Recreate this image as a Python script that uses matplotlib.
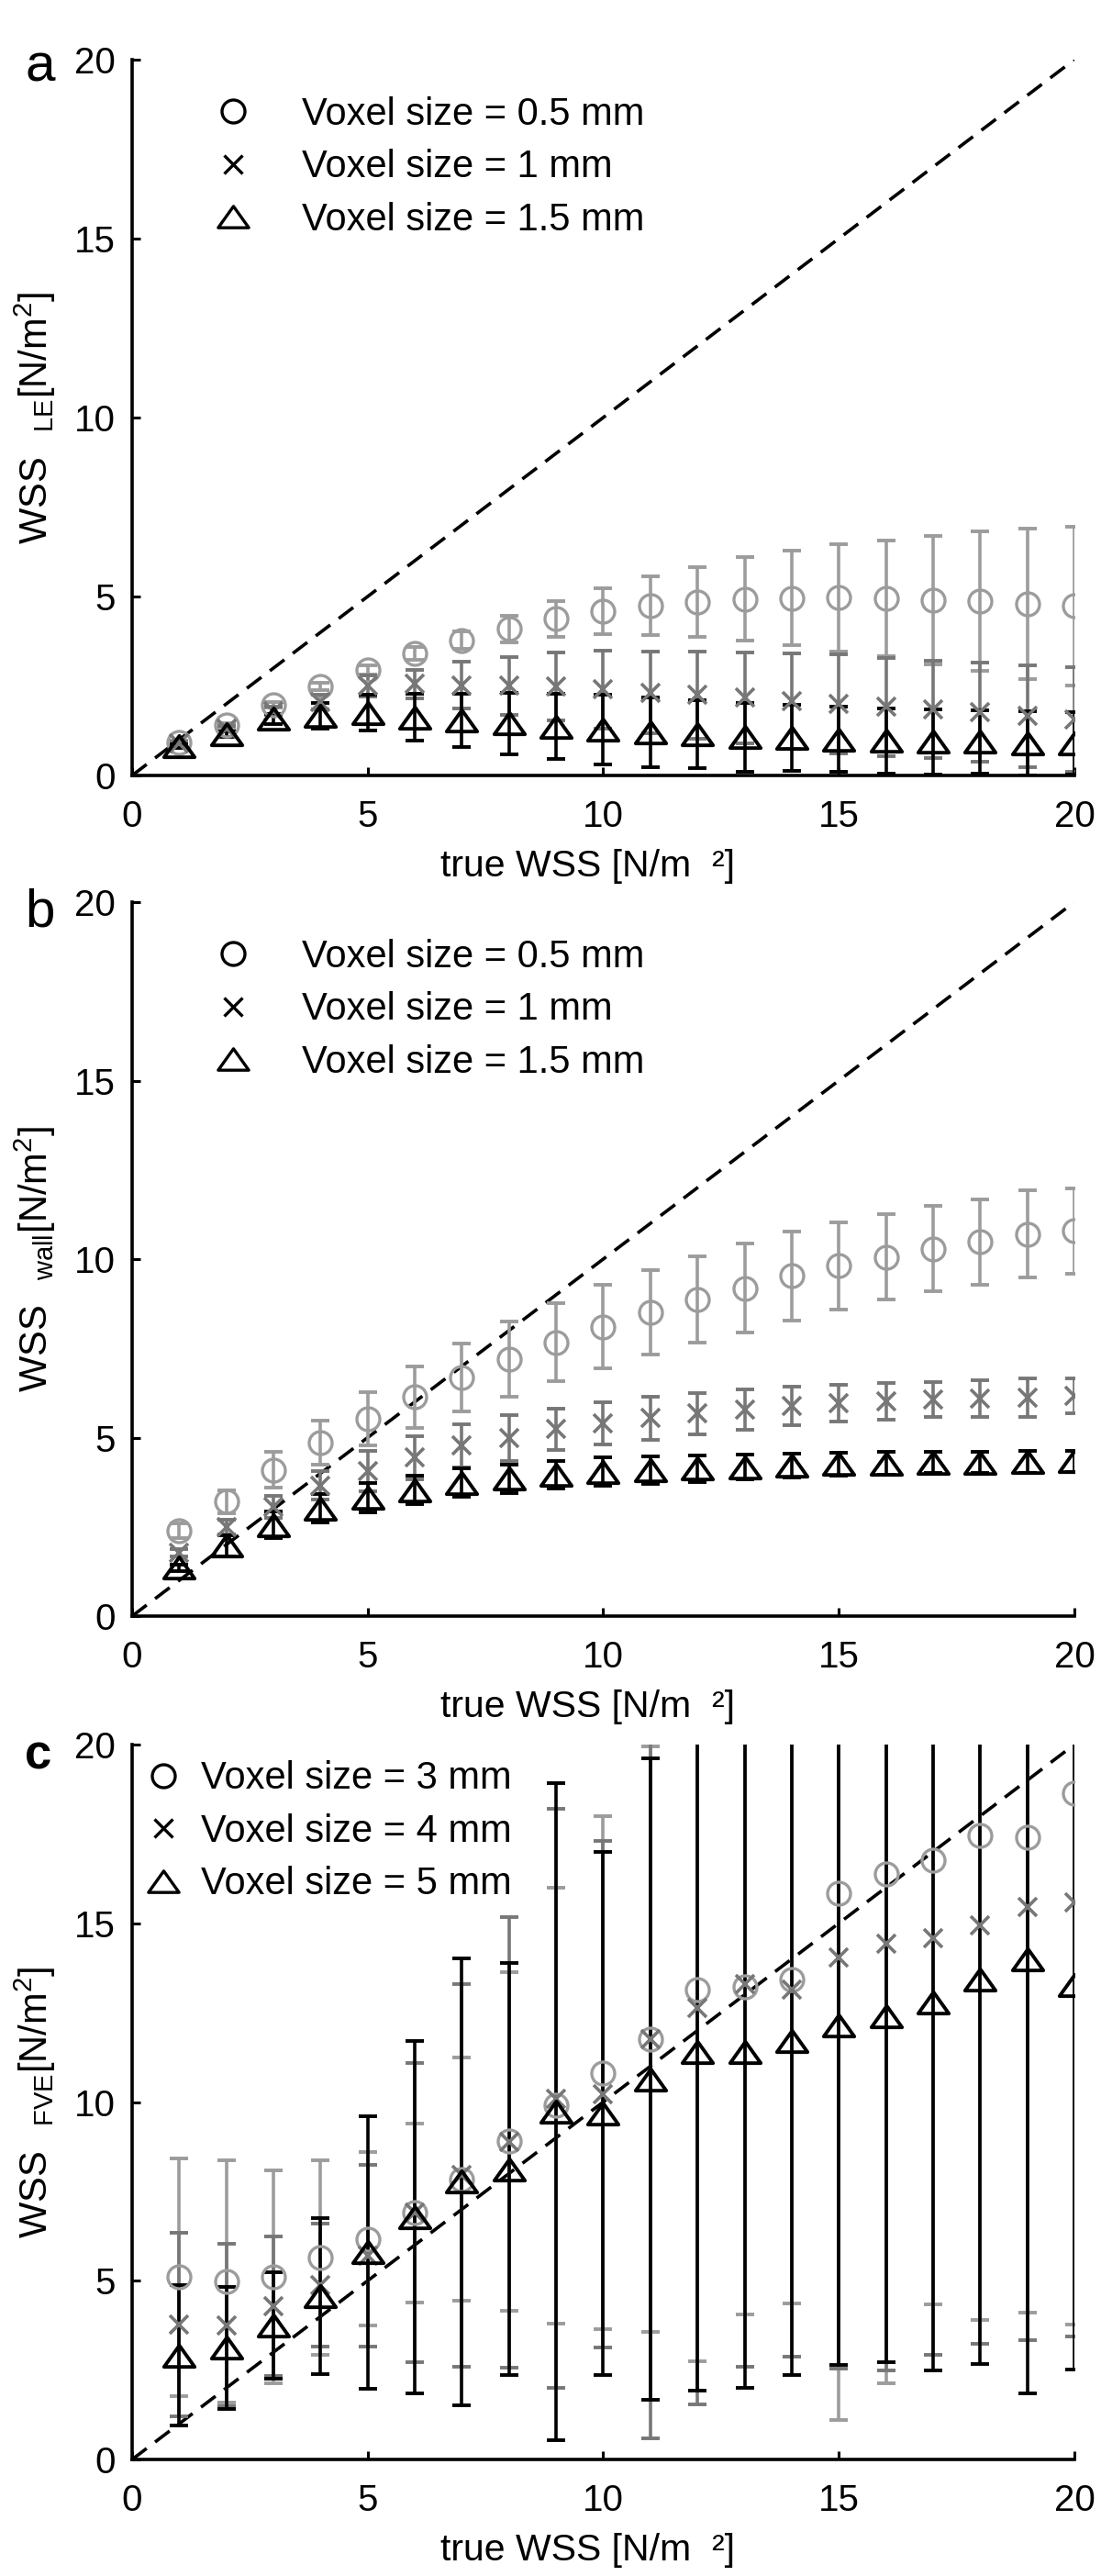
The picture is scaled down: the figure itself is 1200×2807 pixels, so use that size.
import numpy as np
import matplotlib
matplotlib.use("Agg")
import matplotlib.pyplot as plt
from matplotlib.lines import Line2D
from matplotlib.path import Path

plt.rcParams['font.family'] = ['Liberation Sans', 'DejaVu Sans']
plt.rcParams['mathtext.default'] = 'regular'

true_wss = np.arange(1, 21)

# ---- panel a : WSS_LE ----
a_05_mean = [0.92, 1.40, 1.98, 2.48, 2.95, 3.40, 3.78, 4.10, 4.38, 4.58,
             4.75, 4.85, 4.93, 4.96, 4.97, 4.95, 4.90, 4.86, 4.80, 4.74]
a_05_std = [0.05, 0.07, 0.08, 0.10, 0.12, 0.18, 0.25, 0.37, 0.50, 0.64,
            0.82, 0.98, 1.16, 1.31, 1.50, 1.62, 1.80, 1.95, 2.10, 2.22]
a_1_mean = [0.90, 1.30, 1.80, 2.05, 2.50, 2.56, 2.52, 2.50, 2.48, 2.40,
            2.32, 2.25, 2.17, 2.08, 2.00, 1.92, 1.84, 1.77, 1.66, 1.57]
a_1_std = [0.05, 0.08, 0.12, 0.20, 0.30, 0.40, 0.65, 0.80, 0.95, 1.08,
           1.15, 1.22, 1.27, 1.34, 1.38, 1.37, 1.36, 1.39, 1.42, 1.46]
a_15_mean = [0.82, 1.15, 1.58, 1.67, 1.75, 1.62, 1.54, 1.45, 1.37, 1.28,
             1.21, 1.15, 1.07, 1.05, 1.01, 0.97, 0.94, 0.94, 0.90, 0.90]
a_15_std = [0.05, 0.08, 0.15, 0.35, 0.50, 0.65, 0.74, 0.85, 0.92, 0.97,
            0.97, 0.95, 0.96, 0.93, 0.92, 0.91, 0.91, 0.88, 0.89, 0.87]

# ---- panel b : WSS_wall ----
b_05_mean = [2.39, 3.21, 4.10, 4.85, 5.52, 6.14, 6.68, 7.20, 7.67, 8.11,
             8.50, 8.87, 9.19, 9.53, 9.81, 10.06, 10.29, 10.48, 10.70, 10.79]
b_05_std = [0.20, 0.32, 0.50, 0.62, 0.75, 0.86, 0.95, 1.05, 1.10, 1.16,
            1.18, 1.20, 1.24, 1.24, 1.22, 1.20, 1.20, 1.20, 1.22, 1.20]
b_1_mean = [1.78, 2.50, 3.06, 3.66, 4.07, 4.44, 4.77, 4.98, 5.24, 5.41,
            5.54, 5.67, 5.78, 5.88, 5.97, 6.01, 6.07, 6.09, 6.12, 6.18]
b_1_std = [0.10, 0.20, 0.30, 0.40, 0.57, 0.60, 0.61, 0.64, 0.58, 0.59,
           0.61, 0.57, 0.57, 0.54, 0.51, 0.51, 0.49, 0.52, 0.53, 0.49]
b_15_mean = [1.35, 1.97, 2.55, 3.02, 3.32, 3.53, 3.73, 3.85, 3.96, 4.04,
             4.09, 4.13, 4.17, 4.21, 4.26, 4.28, 4.30, 4.30, 4.32, 4.34]
b_15_std = [0.10, 0.30, 0.37, 0.41, 0.41, 0.40, 0.40, 0.40, 0.38, 0.40,
            0.38, 0.38, 0.35, 0.34, 0.32, 0.31, 0.30, 0.30, 0.30, 0.30]

# ---- panel c : WSS_FVE ----
c_3_mean = [5.10, 4.98, 5.11, 5.65, 6.17, 6.90, 7.84, 8.90, 9.90, 10.82,
            11.76, 13.14, 13.22, 13.43, 15.84, 16.38, 16.76, 17.46, 17.40, 18.64]
c_3_std = [3.33, 3.39, 2.98, 2.72, 2.42, 2.50, 3.40, 4.73, 6.10, 7.18,
           8.20, 10.40, 9.17, 9.07, 14.74, 14.26, 12.42, 13.56, 13.29, 14.87]
c_4_mean = [3.78, 3.76, 4.29, 4.88, 5.70, 6.90, 7.95, 8.88, 10.10, 10.22,
            11.76, 12.63, 13.30, 13.14, 14.04, 14.43, 14.58, 14.94, 15.46, 15.58]
c_4_std = [2.57, 2.27, 1.95, 1.72, 2.54, 4.18, 5.36, 6.30, 8.10, 7.08,
           11.17, 11.10, 10.70, 10.27, 11.50, 11.93, 11.65, 11.71, 12.12, 12.14]
c_5_mean = [2.91, 3.12, 3.75, 4.57, 5.79, 6.78, 7.77, 8.12, 9.73, 9.67,
            10.64, 11.40, 11.40, 11.71, 12.14, 12.40, 12.78, 13.43, 13.99, 13.27]
c_5_std = [1.97, 1.71, 1.49, 2.18, 3.81, 4.93, 6.25, 5.77, 9.20, 7.32,
           8.97, 9.47, 9.39, 9.35, 9.49, 9.68, 10.28, 10.76, 12.14, 10.75]

labels_ab = ['Voxel size = 0.5 mm', 'Voxel size = 1 mm', 'Voxel size = 1.5 mm']
labels_c = ['Voxel size = 3 mm', 'Voxel size = 4 mm', 'Voxel size = 5 mm']

light = '#9c9c9c'
mid = '#777777'
dark = 'k'

# wide MATLAB-like triangle
tri = Path([(-1, -0.7), (1, -0.7), (0, 0.7), (-1, -0.7)],
           [Path.MOVETO, Path.LINETO, Path.LINETO, Path.CLOSEPOLY])

styles = [dict(marker='o', ms=18, mew=2.4, color=light),
          dict(marker='x', ms=15, mew=2.6, color=mid),
          dict(marker=tri, ms=24, mew=2.8, color=dark)]

fig = plt.figure(figsize=(12, 28.07), dpi=100)

panels = [
    ([0.12, 0.69897, 0.8558, 0.27788], 'a', 0.9683, dict(fontsize=42),
     [(a_05_mean, a_05_std), (a_1_mean, a_1_std), (a_15_mean, a_15_std)],
     'WSS$\\ \\ {}_{LE}$[N/m$^{2}$]', labels_ab),
    ([0.12, 0.37264, 0.8558, 0.27716], 'b', 0.6405, dict(fontsize=42),
     [(b_05_mean, b_05_std), (b_1_mean, b_1_std), (b_15_mean, b_15_std)],
     'WSS$\\ \\ {}_{wall}$[N/m$^{2}$]', labels_ab),
    ([0.12, 0.045244, 0.8558, 0.27752], 'c', 0.3135, dict(fontsize=38, fontweight='bold'),
     [(c_3_mean, c_3_std), (c_4_mean, c_4_std), (c_5_mean, c_5_std)],
     'WSS$\\ \\ {}_{FVE}$[N/m$^{2}$]', labels_c),
]

for rect, letter, ly, lkw, series, ylab, labs in panels:
    ax = fig.add_axes(rect)
    ax.plot([0, 20], [0, 20], color='k', lw=2.6, ls=(0, (5.5, 3.2)), zorder=1)
    for (m, s), st in zip(series, styles):
        ax.errorbar(true_wss, m, yerr=s, fmt='none', ecolor=st['color'],
                    elinewidth=2.6, capsize=7, capthick=2.8, zorder=2)
        ax.plot(true_wss, m, ls='none', marker=st['marker'], ms=st['ms'],
                mew=st['mew'], mec=st['color'], mfc='none', zorder=3)
    ax.set_xlim(0, 20)
    ax.set_ylim(0, 20)
    ax.set_xticks([0, 5, 10, 15, 20])
    ax.set_yticks([0, 5, 10, 15, 20])
    for sp in ['top', 'right']:
        ax.spines[sp].set_visible(False)
    for sp in ['left', 'bottom']:
        ax.spines[sp].set_linewidth(2.6)
    ax.tick_params(direction='in', length=6.5, width=2.2, labelsize=29)
    ax.tick_params(axis='x', pad=19)
    ax.tick_params(axis='y', pad=13)
    ax.set_xlabel('true WSS [N/m  \u00b2]', fontsize=29.5, va='top')
    ax.xaxis.set_label_coords(0.4834, -0.103)
    ax.set_ylabel(ylab, fontsize=30)
    ax.yaxis.set_label_coords(-0.079, 0.5)

    handles = [Line2D([], [], ls='none', marker=st['marker'], ms=st['ms'],
                      mew=2.4, mec='k', mfc='none') for st in styles]
    if letter == 'c':
        ax.legend(handles, labs, loc='upper left', bbox_to_anchor=(0.0127, 0.978),
                  frameon=False, fontsize=30, handlelength=1.0, handletextpad=0.48,
                  labelspacing=0.42, borderpad=0, borderaxespad=0)
    else:
        ax.legend(handles, labs, loc='upper left', bbox_to_anchor=(0.0867, 0.949),
                  frameon=False, fontsize=30, handlelength=1.0, handletextpad=1.3,
                  labelspacing=0.42, borderpad=0, borderaxespad=0)
    fig.text(0.0225, ly, letter, va='baseline', ha='left', **lkw)

fig.savefig('out.png', dpi=100)
